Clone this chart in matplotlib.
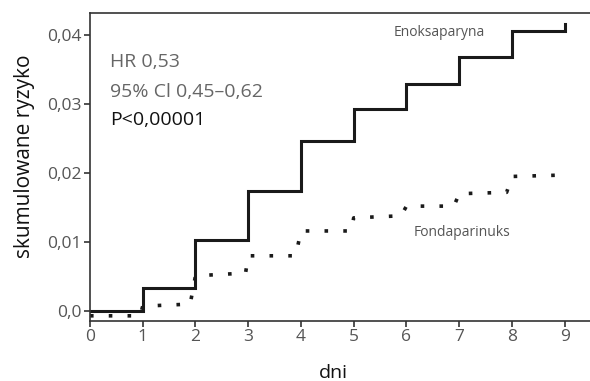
import matplotlib
matplotlib.use("Agg")
import matplotlib.pyplot as plt

plt.rcParams['font.family'] = ['Open Sans', 'DejaVu Sans']

# Enoksaparyna - step values per day
enox_days = [0, 1, 2, 3, 4, 5, 6, 7, 8, 9]
enox_risk = [0.0000, 0.0033, 0.0103, 0.0174, 0.0246, 0.0293, 0.0329, 0.0368, 0.0406, 0.0416]

# Fondaparinuks - dotted curve
fonda_days = [0, 0.95, 1.0, 1.9, 2.0, 2.95, 3.0, 3.9, 4.0, 4.95, 5.0, 5.9, 6.0, 6.9, 7.0, 7.9, 8.0, 8.95, 9.0]
fonda_risk = [-0.0007, -0.0007, 0.0007, 0.0010, 0.0051, 0.0055, 0.0080, 0.0080, 0.0116, 0.0116,
              0.0135, 0.0138, 0.0152, 0.0152, 0.0170, 0.0172, 0.0195, 0.0197, 0.0203]

yticks = [0.0, 0.01, 0.02, 0.03, 0.04]
ytick_labels = ["0,0", "0,01", "0,02", "0,03", "0,04"]
xticks = list(range(10))

fig = plt.figure(figsize=(5.9, 3.81), dpi=100)
ax = fig.add_axes([0.1525, 0.1575, 0.86, 0.8085])

ax.step(enox_days, enox_risk, where="post", color="#1a1a1a", lw=2.2, solid_joinstyle="miter")
ax.plot(fonda_days, fonda_risk, color="#1a1a1a", lw=2.6, linestyle=(0, (1, 4.2)),
        dash_capstyle="butt")

ax.set_xlim(0, 9.62)
ax.set_ylim(-0.00145, 0.0432)
ax.set_xticks(xticks)
ax.set_xticklabels([str(d) for d in xticks])
ax.set_yticks(yticks)
ax.set_yticklabels(ytick_labels)

for s in ["left", "bottom", "top"]:
    ax.spines[s].set_color("#333333")
    ax.spines[s].set_linewidth(1.2)
ax.spines["right"].set_visible(False)
ax.tick_params(colors="#333333", labelcolor="#555555", labelsize=12.5, length=4, width=1.2, pad=2)

ax.set_xlabel("dni", fontsize=14, color="#111111")
ax.set_ylabel("skumulowane ryzyko", fontsize=15, color="#111111")
ax.yaxis.set_label_coords(-0.108, 0.536)
ax.xaxis.set_label_coords(0.48, -0.14)

ax.text(5.75, 0.0404, "Enoksaparyna", fontsize=10, color="#555555", va="center")
ax.text(6.13, 0.0114, "Fondaparinuks", fontsize=10, color="#555555", va="center")
ax.text(0.38, 0.0361, "HR 0,53", fontsize=14, color="#666666", va="center")
ax.text(0.38, 0.0317, "95% Cl 0,45–0,62", fontsize=14, color="#666666", va="center")
ax.text(0.38, 0.0277, "P<0,00001", fontsize=14, color="#111111", va="center")

fig.savefig("out.png", dpi=100)
